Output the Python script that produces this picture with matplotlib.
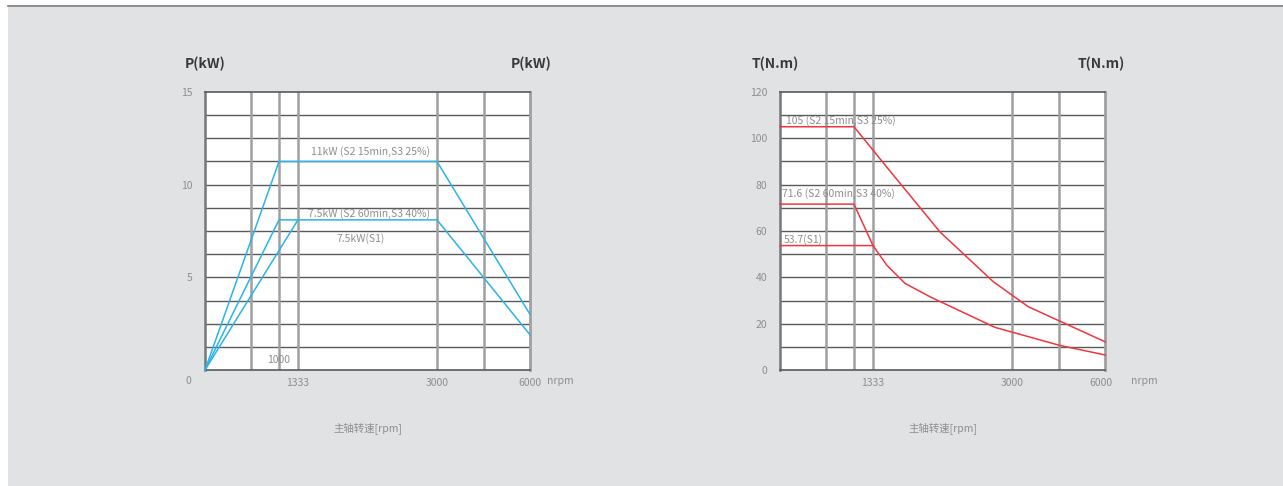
import numpy as np
import matplotlib
matplotlib.use("Agg")
import matplotlib.pyplot as plt
from matplotlib.lines import Line2D

plt.rcParams['font.family'] = ['Noto Sans CJK SC', 'DejaVu Sans']

# ---------------- data ----------------
# speed axis breakpoints (rpm) -> the chart uses a piecewise axis
axis_rpm = [0, 1000, 1333, 3000, 6000]
axis_pos = [0, 74, 93, 232, 325]
grid_rpm = [622, 1000, 1333, 3000, 4516]
xtick_vals = [1333, 3000, 6000]
xtick_labels = ["1333", "3000", "6000"]

# power chart
p_s2_15_rpm = [0, 1000, 3000, 6000]
p_s2_15_kw = [0, 11.25, 11.25, 3.0]
p_s2_60_rpm = [0, 1000, 3000, 6000]
p_s2_60_kw = [0, 8.1, 8.1, 1.9]
p_s1_rpm = [0, 1333]
p_s1_kw = [0, 8.1]
p_yticks = [5, 10, 15]

# torque chart
t_s2_15_rpm = [0, 1000, 1500, 2136, 2776, 3526, 6000]
t_s2_15_nm = [105, 105, 87.5, 59.6, 38.1, 27.3, 12.2]
t_s2_60_rpm = [0, 1000, 1333]
t_s2_60_nm = [71.6, 71.6, 53.7]
t_s1_rpm = [0, 1333, 1497, 1717, 2017, 2796, 4548, 6000]
t_s1_nm = [53.7, 53.7, 45.3, 37.4, 31.6, 18.4, 10.6, 6.5]
t_yticks = [0, 20, 40, 60, 80, 100, 120]

BG = "#e1e2e4"
TXT = "#8e8e8e"
HGRID = "#5a5a5a"
VGRID = "#a0a0a0"
BLUE = "#2ab4e8"
RED = "#f0363e"

fig = plt.figure(figsize=(12.83, 4.86), dpi=100)
fig.patch.set_facecolor("white")
# gray panel and top rule
fig.patches.append(matplotlib.patches.Rectangle((8/1283, 0), 1 - 8/1283, 1 - 7/486,
                   transform=fig.transFigure, facecolor=BG, edgecolor="none", zorder=-10))
fig.add_artist(Line2D([8/1283, 1], [1 - 6.5/486, 1 - 6.5/486], transform=fig.transFigure,
                      color="#7a7a7a", lw=1.2))

def fwd(x):
    return np.interp(x, axis_rpm, axis_pos)

def inv(y):
    return np.interp(y, axis_pos, axis_rpm)

def setup(ax, ymax, ystep, yticks, nrpm_x):
    ax.set_facecolor("white")
    ax.set_xscale("function", functions=(fwd, inv))
    ax.set_xlim(0, 6000)
    ax.set_ylim(0, ymax)
    for v in np.arange(ystep, ymax, ystep):
        ax.axhline(v, color=HGRID, lw=1.0, zorder=1)
    for v in grid_rpm:
        ax.axvline(v, color=VGRID, lw=1.8, zorder=1)
    for s in ["left", "bottom", "top"]:
        ax.spines[s].set_color(HGRID)
        ax.spines[s].set_linewidth(1.2)
    ax.spines["left"].set_color("#777777")
    ax.spines["left"].set_linewidth(1.8)
    ax.spines["right"].set_color(VGRID)
    ax.spines["right"].set_linewidth(2.0)
    ax.set_xticks(xtick_vals)
    ax.set_xticklabels(xtick_labels)
    ax.xaxis.set_minor_locator(matplotlib.ticker.NullLocator())
    ax.set_yticks(yticks)
    ax.set_yticklabels([str(v) for v in yticks])
    ax.tick_params(axis="both", length=0, labelsize=7.5, labelcolor=TXT)
    ax.tick_params(axis="x", pad=6)
    ax.tick_params(axis="y", pad=9)
    ax.text(nrpm_x, -0.04, "nrpm", transform=ax.transAxes, fontsize=7.5,
            color=TXT, ha="left", va="center")
    ax.text(0.5, -0.21, "主轴转速[rpm]", transform=ax.transAxes, fontsize=7.5,
            color=TXT, ha="center", va="center")

W, H = 1283, 486
ax1 = fig.add_axes([205/W, (H-370)/H, 325/W, 278/H])
ax2 = fig.add_axes([780/W, (H-370)/H, 325/W, 278/H])

setup(ax1, 15, 1.25, p_yticks, 1.052)
setup(ax2, 120, 10, t_yticks, 1.08)
# right chart's last speed label sits slightly left of the edge
for lbl in ax2.get_xticklabels():
    if lbl.get_text() == "6000":
        lbl.set_horizontalalignment("center")
        lbl.set_x(lbl.get_position()[0])
ax2.get_xticklabels()[-1].set_transform(ax2.get_xticklabels()[-1].get_transform()
                                        + matplotlib.transforms.ScaledTranslation(-4/100, 0, fig.dpi_scale_trans))

# power curves
ax1.plot(p_s2_15_rpm, p_s2_15_kw, color=BLUE, lw=1.1, zorder=3, clip_on=False)
ax1.plot(p_s2_60_rpm, p_s2_60_kw, color=BLUE, lw=1.1, zorder=3, clip_on=False)
ax1.plot(p_s1_rpm, p_s1_kw, color=BLUE, lw=1.1, zorder=3, clip_on=False)
ax1.text(0.51, 0.785, "11kW (S2 15min,S3 25%)", transform=ax1.transAxes, fontsize=7.5,
         color=TXT, ha="center", va="center")
ax1.text(0.505, 0.562, "7.5kW (S2 60min,S3 40%)", transform=ax1.transAxes, fontsize=7.5,
         color=TXT, ha="center", va="center")
ax1.text(0.48, 0.473, "7.5kW(S1)", transform=ax1.transAxes, fontsize=7.5,
         color=TXT, ha="center", va="center")
ax1.text(0.225, 0.036, "1000", transform=ax1.transAxes, fontsize=7.5,
         color=TXT, ha="center", va="center")
ax1.text(-0.052, -0.04, "0", transform=ax1.transAxes, fontsize=7.5,
         color=TXT, ha="center", va="center")

# torque curves
ax2.plot(t_s2_15_rpm, t_s2_15_nm, color=RED, lw=1.1, zorder=3, clip_on=False)
ax2.plot(t_s2_60_rpm, t_s2_60_nm, color=RED, lw=1.1, zorder=3, clip_on=False)
ax2.plot(t_s1_rpm, t_s1_nm, color=RED, lw=1.1, zorder=3, clip_on=False)
ax2.text(0.018, 0.897, "105 (S2 15min,S3 25%)", transform=ax2.transAxes, fontsize=7.5,
         color=TXT, ha="left", va="center")
ax2.text(0.005, 0.635, "71.6 (S2 60min,S3 40%)", transform=ax2.transAxes, fontsize=7.5,
         color=TXT, ha="left", va="center")
ax2.text(0.012, 0.469, "53.7(S1)", transform=ax2.transAxes, fontsize=7.5,
         color=TXT, ha="left", va="center")

# titles
TTL = "#3a3a3a"
fig.text(185/W, 1 - 64/H, "P(kW)", fontsize=10, color=TTL, ha="left", va="center", weight="bold")
fig.text(551/W, 1 - 64/H, "P(kW)", fontsize=10, color=TTL, ha="right", va="center", weight="bold")
fig.text(752/W, 1 - 64/H, "T(N.m)", fontsize=10, color=TTL, ha="left", va="center", weight="bold")
fig.text(1125/W, 1 - 64/H, "T(N.m)", fontsize=10, color=TTL, ha="right", va="center", weight="bold")

fig.savefig("out.png", dpi=100, facecolor=fig.get_facecolor())
